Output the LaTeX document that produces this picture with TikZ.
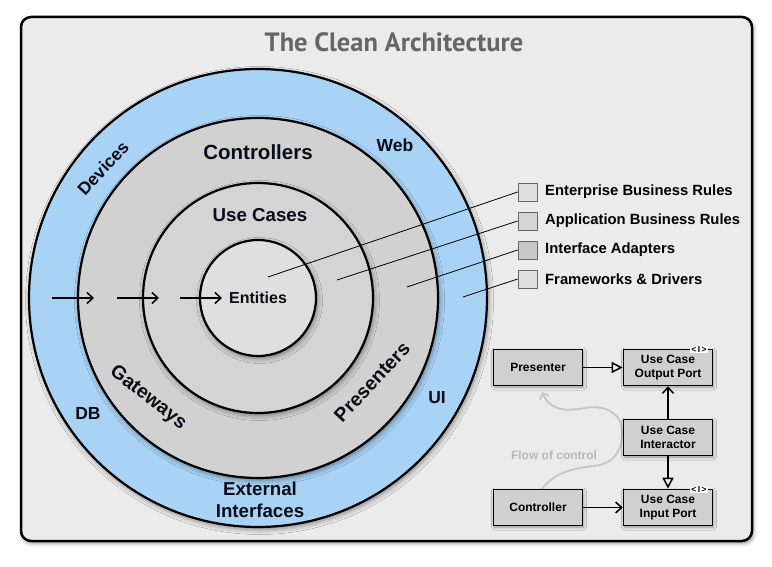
\documentclass[tikz,border=0pt]{standalone}
\usepackage{fontspec}
\setmainfont{Liberation Sans}
\newfontfamily\titlefont{PT Sans}
\usetikzlibrary{arrows.meta,shadows.blur}
\definecolor{bgc}{HTML}{EBEBEB}
\definecolor{ringblue}{HTML}{A9D3F5}
\definecolor{ringgray}{HTML}{D1D1D1}
\definecolor{ucgray}{HTML}{D4D4D4}
\definecolor{entgray}{HTML}{DFDFDF}
\definecolor{boxgray}{HTML}{D0D0D0}
\definecolor{lbl}{HTML}{0C0C18}
\definecolor{titlegray}{HTML}{666666}
\definecolor{flowgray}{HTML}{C6C6C6}
\definecolor{flowtext}{HTML}{B8B8B8}
\tikzset{
  shad/.style={blur shadow={shadow blur radius=5pt, shadow xshift=1.5pt, shadow yshift=-2.5pt, shadow opacity=45}},
  ring/.style={circle, draw, line width=2.2pt, inner sep=0pt, shad},
  lab/.style={font=\bfseries\fontsize{#1}{#1}\selectfont, text=lbl, inner sep=0pt},
  legsq/.style={draw=black!60, line width=0.7pt, minimum width=19pt, minimum height=18pt, inner sep=0pt},
  legtxt/.style={anchor=west, font=\bfseries\fontsize{14.8}{14.8}\selectfont, inner sep=0pt},
  ucbox/.style={draw, line width=1.6pt, fill=boxgray, minimum width=89pt, minimum height=36pt, align=center, inner sep=1pt, font=\bfseries\fontsize{12}{13.7}\selectfont, blur shadow={shadow blur radius=3pt, shadow xshift=1pt, shadow yshift=-1.5pt, shadow opacity=35}},
  iface/.style={fill=white, inner xsep=1pt, inner ysep=0pt, font=\bfseries\fontsize{8.5}{8.5}\selectfont},
  flowarr/.style={line width=1.5pt, -{Straight Barb[length=6pt,width=11pt]}},
  implarr/.style={line width=1.5pt, -{Triangle[open, length=11pt, width=11pt]}},
  legline/.style={line width=0.8pt}
}
\begin{document}
\begin{tikzpicture}[x=1pt,y=-1pt]
\useasboundingbox (0,0) rectangle (772,567);
% frame
\draw[line width=2.5pt, rounded corners=10pt, fill=bgc, blur shadow={shadow blur radius=4pt, shadow xshift=1.5pt, shadow yshift=-2.5pt, shadow opacity=40}] (21,17) rectangle (752,541);
\node[font=\titlefont\bfseries\fontsize{26.5}{26.5}\selectfont, text=titlegray] (title) at (394,42) {The Clean Architecture};
% circles
\node[ring, fill=ringblue, minimum size=458pt] (outer) at (258,298) {};
\node[ring, fill=ringgray, minimum size=360pt] (ctrl) at (258,298) {};
\node[ring, fill=ucgray, minimum size=230pt] (uc) at (258,298) {};
\node[ring, fill=entgray, minimum size=116pt] (ent) at (258,298) {};
% ring labels
\node[lab=20.5] (lctrl) at (258,152) {Controllers};
\node[lab=18.7] (luc) at (260,215) {Use Cases};
\node[lab=16] (lent) at (258,298) {Entities};
\node[lab=17.5, rotate=47] (ldev) at (103,168) {Devices};
\node[lab=17.5] (lweb) at (395,145) {Web};
\node[lab=17.5] (ldb) at (88,413) {DB};
\node[lab=17.5] (lui) at (437,398) {UI};
\node[lab=19.5, rotate=-38] (lgate) at (148,398) {Gateways};
\node[lab=19.5, rotate=47] (lpres) at (372,382) {Presenters};
\node[lab=18.7, align=center, font=\bfseries\fontsize{18.7}{22.5}\selectfont] (lext) at (260,500) {External\\Interfaces};
% dependency arrows
\coordinate (a1s) at (52,298); \coordinate (a1e) at (94,298);
\coordinate (a2s) at (117,298); \coordinate (a2e) at (159,298);
\coordinate (a3s) at (180,298); \coordinate (a3e) at (222,298);
\draw[flowarr] (a1s) -- (a1e);
\draw[flowarr] (a2s) -- (a2e);
\draw[flowarr] (a3s) -- (a3e);
% legend
\node[legsq, fill=entgray] (sq1) at (527.5,192) {};
\node[legsq, fill=ucgray] (sq2) at (527.5,221) {};
\node[legsq, fill=black!22] (sq3) at (527.5,250) {};
\node[legsq, fill=entgray] (sq4) at (527.5,279) {};
\node[legtxt] (t1) at (545,192) {Enterprise Business Rules};
\node[legtxt] (t2) at (545,221) {Application Business Rules};
\node[legtxt] (t3) at (545,250) {Interface Adapters};
\node[legtxt] (t4) at (545,279) {Frameworks \& Drivers};
\coordinate (p1) at (268,277);
\coordinate (p2) at (337,280);
\coordinate (p3) at (407,287);
\coordinate (p4) at (463,297);
\draw[legline] (p1) -- (sq1.west);
\draw[legline] (p2) -- (sq2.west);
\draw[legline] (p3) -- (sq3.west);
\draw[legline] (p4) -- (sq4.west);
% flow of control
\coordinate (fs) at (542,489);
\coordinate (fe) at (542,392);
\draw[flowgray, line width=1.8pt, -{Straight Barb[length=5pt,width=10pt]}] (fs) .. controls (552,475) and (570,468) .. (595,466) .. controls (615,463) and (622,450) .. (622,432) .. controls (622,410) and (600,405) .. (585,408) .. controls (565,412) and (550,410) .. (fe);
\node[text=flowtext, font=\bfseries\fontsize{12}{12}\selectfont] (flow) at (554,455) {Flow of control};
% use case boxes
\node[ucbox] (pres) at (538,367.5) {Presenter};
\node[ucbox] (outp) at (668,367.5) {Use Case\\Output Port};
\node[ucbox] (intr) at (668,437.5) {Use Case\\Interactor};
\node[ucbox] (ctl) at (538,507.5) {Controller};
\node[ucbox] (inp) at (668,507.5) {Use Case\\Input Port};
\node[iface] (i1) at (699,350) {<\,I\,>};
\node[iface] (i2) at (699,490) {<\,I\,>};
\draw[implarr] (pres) -- (outp);
\draw[flowarr] (intr) -- (outp);
\draw[implarr] (intr) -- (inp);
\draw[flowarr] (ctl) -- (inp);
\end{tikzpicture}
\end{document}
